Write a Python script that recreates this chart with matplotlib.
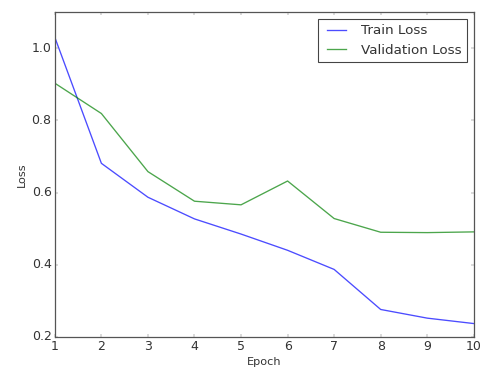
import numpy as np
import matplotlib
matplotlib.use('Agg')
import matplotlib.pyplot as plt

epochs = [1, 2, 3, 4, 5, 6, 7, 8, 9, 10]
train_loss = [1.03, 0.681, 0.587, 0.527, 0.485, 0.44, 0.387, 0.276, 0.252, 0.237]
val_loss = [0.903, 0.819, 0.658, 0.576, 0.566, 0.632, 0.528, 0.490, 0.489, 0.491]

plt.style.use('classic')
plt.rcParams['font.size'] = 13.5
plt.rcParams['xtick.labelsize'] = 15
plt.rcParams['ytick.labelsize'] = 15
plt.rcParams['text.color'] = '#333333'
plt.rcParams['axes.labelcolor'] = '#333333'
plt.rcParams['xtick.color'] = '#555555'
plt.rcParams['ytick.color'] = '#555555'
plt.rcParams['xtick.labelcolor'] = '#333333'
plt.rcParams['ytick.labelcolor'] = '#333333'
plt.rcParams['axes.edgecolor'] = '#555555'
plt.rcParams['axes.linewidth'] = 1.5

fig = plt.figure(figsize=(481 / 60, 367 / 60), dpi=60)
ax = fig.add_axes([0.114, 0.082, 0.871, 0.885])

ax.plot(epochs, train_loss, color='b', alpha=0.7, lw=1.6, label='Train Loss')
ax.plot(epochs, val_loss, color='g', alpha=0.7, lw=1.6, label='Validation Loss')
ax.set_xlim(1, 10)
ax.set_ylim(0.2, 1.1)
ax.set_xticks(epochs)
ax.set_yticks([0.2, 0.4, 0.6, 0.8, 1.0])
ax.set_xlabel('Epoch', labelpad=5)
ax.set_ylabel('Loss')
leg = ax.legend(loc='upper right')
leg.get_frame().set_edgecolor('#444444')
leg.get_frame().set_linewidth(1.3)

fig.savefig('out.png', dpi=60)
